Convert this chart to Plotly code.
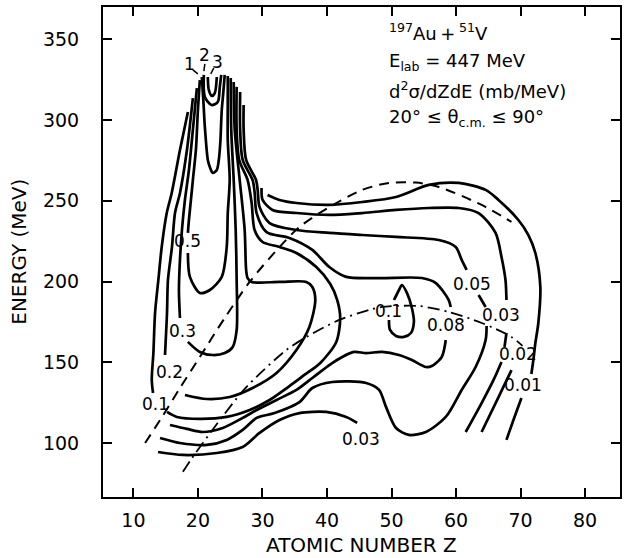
import plotly.graph_objects as go

# ---------------- axis ticks ----------------
x_ticks = [10, 20, 30, 40, 50, 60, 70, 80]
y_ticks = [100, 150, 200, 250, 300, 350]

# ---------------- contour lines (Z, E in MeV) ----------------
# level 3 : innermost loop at the top of the peak
c3_z = [21.53, 21.68, 22.15, 22.61, 22.92]
c3_e = [326.5, 318.5, 314.8, 316.6, 326.5]

# level 2
c2_z = [20.91, 21.07, 22.10, 23.07, 23.38, 23.61]
c2_e = [327.8, 314.2, 309.2, 311.1, 320.3, 327.8]

# level 1 : long narrow loop
c1_z = [20.60, 20.83, 21.07, 21.53, 21.84, 22.30, 22.92, 23.23, 23.46, 23.69, 23.92, 24.15]
c1_e = [326.5, 312.3, 295.6, 275.2, 270.9, 267.2, 269.0, 275.2, 285.7, 306.1, 316.6, 327.8]

# level 0.5 (left branch, then the rest after the label)
c05a_z = [20.29, 19.99, 19.68, 19.21, 18.91, 18.60, 18.44]
c05a_e = [324.6, 306.1, 281.4, 262.8, 250.5, 238.1, 230.1]
c05b_z = [18.44, 18.75, 20.29, 21.84, 23.69, 24.46, 24.62, 24.92, 24.62, 24.62, 24.62]
c05b_e = [217.7, 202.9, 193.0, 194.8, 202.9, 221.4, 242.4, 262.8, 287.6, 312.3, 327.1]

# level 0.3
c03a_z = [19.83, 19.21, 18.60, 17.98, 17.52, 17.21, 17.05, 17.21]
c03a_e = [319.7, 293.8, 269.0, 250.5, 231.9, 213.4, 194.8, 177.5]
c03b_z = [18.44, 20.29, 22.30, 24.15, 25.39, 26.00, 26.00, 25.85, 25.54, 25.16, 25.08]
c03b_e = [162.7, 156.5, 154.6, 155.8, 159.6, 170.1, 201.0, 231.9, 262.8, 293.8, 325.9]

# level 0.2
c02a_z = [19.21, 18.29, 17.21, 16.44, 15.97, 15.35, 15.20, 14.89]
c02a_e = [313.5, 281.4, 254.8, 242.4, 221.4, 201.0, 180.6, 154.6]
c02b_z = [17.98, 21.37, 24.92, 28.47, 32.18, 35.26, 37.27, 38.19, 37.73, 36.81, 32.64,
          28.32, 27.70, 27.47, 27.24, 26.47, 25.70, 25.54]
c02b_e = [129.9, 127.4, 128.6, 134.2, 143.5, 157.7, 171.9, 188.6, 196.7, 199.8, 199.8,
          199.8, 202.2, 207.2, 231.9, 262.8, 293.8, 323.4]

# level 0.1 (big contour) and the small closed island
c01a_z = [18.44, 17.21, 15.93, 15.16, 14.38, 13.86, 13.35, 13.09, 12.84, 13.04]
c01a_e = [304.9, 281.4, 254.8, 242.4, 221.4, 201.0, 180.6, 155.8, 139.2, 131.1]
c01b_z = [15.20, 16.74, 20.29, 24.46, 28.01, 31.10, 34.18, 36.50, 38.97, 41.44, 42.05,
          41.59, 40.51, 38.35, 35.26, 32.64, 30.02, 28.78, 28.32, 27.70, 26.39, 26.00, 26.00]
c01b_e = [119.4, 116.3, 115.1, 116.3, 120.6, 126.8, 135.4, 142.3, 149.7, 162.7, 177.5,
          188.6, 198.5, 209.0, 217.7, 221.4, 224.5, 231.9, 248.6, 262.8, 275.2, 293.8, 320.4]
c01i_z = [50.39, 51.16, 51.62, 52.39, 53.16, 53.47, 53.01, 51.93, 50.70, 49.77, 49.61]
c01i_e = [188.6, 194.8, 197.9, 193.0, 183.7, 175.0, 168.2, 165.8, 166.4, 170.1, 176.3]

# level 0.08
c008a_z = [26.54, 26.54, 26.93, 28.47, 28.78, 29.09, 30.63, 34.18, 37.73, 40.36, 42.98,
           48.07, 54.71, 56.87, 58.87, 59.18]
c008a_e = [317.3, 293.8, 275.2, 262.8, 255.4, 242.4, 230.6, 227.0, 219.6, 209.0, 202.9,
           202.2, 202.2, 199.1, 188.6, 184.3]
c008b_z = [15.66, 18.29, 20.76, 23.84, 26.93, 29.09, 32.18, 35.26, 37.73, 40.36, 42.36,
           44.21, 46.07, 48.54, 51.16, 53.16, 55.33, 56.25, 57.79, 58.41]
c008b_e = [111.3, 108.9, 107.0, 109.5, 115.7, 120.6, 126.8, 133.0, 140.4, 148.4, 153.4,
           156.5, 155.8, 156.5, 154.6, 151.5, 147.2, 147.8, 153.4, 163.9]

# level 0.05
c005a_z = [27.08, 27.08, 27.47, 29.01, 29.25, 29.55, 31.10, 35.26, 40.36, 45.45, 50.70,
           57.33, 59.95, 60.88, 61.65]
c005a_e = [309.2, 293.8, 275.2, 262.8, 256.7, 246.1, 236.2, 231.9, 230.1, 228.8, 227.6,
           225.7, 221.4, 213.4, 207.2]
c005b_z = [63.50, 64.59]
c005b_e = [191.7, 184.3]
c005c_z = [64.74, 64.59, 63.04, 60.88, 58.41, 55.33, 52.70, 50.70, 49.15, 48.07, 46.07,
           40.82, 37.73, 35.73, 31.87, 29.09, 26.93, 24.46, 21.37, 17.21, 14.12]
c005c_e = [172.6, 163.9, 147.2, 133.0, 116.3, 107.0, 105.2, 109.5, 122.5, 133.0, 137.3,
           137.9, 134.2, 125.5, 118.7, 115.7, 108.3, 102.1, 99.0, 100.2, 103.3]

# level 0.03 (upper arc, its lower continuation, and the separate low-energy piece)
c003a_z = [29.86, 30.02, 31.56, 35.26, 40.36, 45.45, 50.70, 55.79, 60.42, 63.50, 66.13,
           67.05, 67.67, 67.82]
c003a_e = [257.9, 250.5, 244.3, 242.4, 241.2, 242.4, 244.3, 245.5, 245.5, 242.4, 230.1,
           215.2, 201.0, 188.6]
c003b_z = [67.82, 67.52]
c003b_e = [168.2, 159.6]
c003c_z = [67.05, 65.82, 63.97, 61.50]
c003c_e = [150.3, 139.2, 124.9, 107.0]
c003d_z = [13.81, 17.67, 22.92, 26.93, 29.55, 32.64, 35.73, 39.89, 42.98, 44.68]
c003d_e = [94.6, 92.8, 94.0, 97.7, 106.4, 114.4, 118.7, 119.4, 116.3, 112.6]

# outermost arc and the low-level tails on the right
c002a_z = [30.79, 32.64, 35.26, 40.36, 45.45, 50.70, 55.79, 60.42, 64.59, 66.59, 69.67,
           71.22, 72.30, 73.07, 72.76, 72.30, 71.99, 71.68]
c002a_e = [253.6, 250.5, 248.6, 247.4, 249.2, 252.3, 259.8, 261.0, 256.7, 250.5, 238.1,
           228.8, 217.7, 196.7, 174.4, 162.0, 151.5, 142.9]
c002b_z = [68.60, 66.59, 63.97]
c002b_e = [145.3, 128.6, 107.0]
c001_z = [70.14, 68.90, 67.82]
c001_e = [128.0, 114.4, 102.1]

# reference curves
dash_z = [11.81, 14.43, 17.21, 20.29, 24.15, 28.01, 32.64, 35.73, 40.36, 45.45, 49.61,
          53.78, 57.33, 63.97, 68.60]
dash_e = [100.2, 116.3, 134.2, 153.4, 177.5, 199.8, 221.4, 233.8, 246.1, 256.7, 261.0,
          261.2, 258.5, 247.4, 236.9]
dashdot_z = [17.67, 19.1, 23.4, 27.5, 33.7, 36.8, 41.9, 46.5, 48.5, 54.2, 58.9, 64.0, 68.6, 70.3]
dashdot_e = [82.4, 91.0, 114.4, 134.8, 157.7, 165.7, 176.3, 182.4, 184.3, 184.9, 181.2,
             174.4, 165.8, 160.2]

# short leader strokes for the peak labels
lead1_z = [19.21, 19.98]
lead1_e = [330.9, 328.4]
lead2_z = [21.07, 20.91]
lead2_e = [334.6, 330.2]
lead3_z = [22.45, 21.99]
lead3_e = [332.1, 328.4]

# contour labels
label_text = ["1", "2", "3", "0.5", "0.3", "0.2", "0.1", "0.1", "0.08", "0.05",
              "0.03", "0.02", "0.01", "0.03"]
label_z = [18.75, 21.07, 23.07, 18.44, 17.67, 15.51, 13.35, 49.61, 58.41, 62.42,
           67.05, 69.67, 70.45, 45.30]
label_e = [334.6, 340.1, 335.8, 225.1, 169.5, 144.1, 124.3, 181.8, 173.1, 198.5,
           179.4, 155.2, 136.1, 102.6]

FONT = "DejaVu Sans"

fig = go.Figure()


def add_line(z, e, dash="solid", width=2.7):
    fig.add_trace(go.Scatter(
        x=z, y=e, mode="lines",
        line=dict(color="black", width=width, shape="spline", smoothing=0.8, dash=dash),
        hoverinfo="skip", showlegend=False))


solid = [
    (c3_z, c3_e), (c2_z, c2_e), (c1_z, c1_e),
    (c05a_z, c05a_e), (c05b_z, c05b_e),
    (c03a_z, c03a_e), (c03b_z, c03b_e),
    (c02a_z, c02a_e), (c02b_z, c02b_e),
    (c01a_z, c01a_e), (c01b_z, c01b_e), (c01i_z, c01i_e),
    (c008a_z, c008a_e), (c008b_z, c008b_e),
    (c005a_z, c005a_e), (c005b_z, c005b_e), (c005c_z, c005c_e),
    (c003a_z, c003a_e), (c003b_z, c003b_e), (c003c_z, c003c_e), (c003d_z, c003d_e),
    (c002a_z, c002a_e), (c002b_z, c002b_e), (c001_z, c001_e),
]
for z, e in solid:
    add_line(z, e)

add_line(dash_z, dash_e, dash="10px,7px", width=2)
add_line(dashdot_z, dashdot_e, dash="12px,5px,2px,5px", width=1.8)
for z, e in [(lead1_z, lead1_e), (lead2_z, lead2_e), (lead3_z, lead3_e)]:
    add_line(z, e, width=1.5)

for t, z, e in zip(label_text, label_z, label_e):
    fig.add_annotation(x=z, y=e, text=t, showarrow=False,
                       font=dict(family=FONT, size=17, color="black"))

# reaction description block
info_lines = [
    "<sup>197</sup>Au\u2009+\u2009<sup>51</sup>V",
    "E<sub>lab</sub> = 447 MeV",
    "d<sup>2</sup>σ/dZdE (mb/MeV)",
    "20° ≤ θ<sub>c.m.</sub> ≤ 90°",
]
info_y = [0.949, 0.888, 0.831, 0.773]
for t, yy in zip(info_lines, info_y):
    fig.add_annotation(xref="paper", yref="paper", x=0.549, y=yy, text=t,
                       xanchor="left", yanchor="middle", showarrow=False,
                       font=dict(family=FONT, size=18, color="black"))

# axis titles
fig.add_annotation(xref="paper", yref="paper", x=0.5, y=-0.098, text="ATOMIC NUMBER Z",
                   showarrow=False, xanchor="center", yanchor="middle",
                   font=dict(family=FONT, size=20, color="black"))
fig.add_annotation(xref="paper", yref="paper", x=-0.163, y=0.5, text="ENERGY (MeV)",
                   textangle=-90, showarrow=False, xanchor="center", yanchor="middle",
                   font=dict(family=FONT, size=20, color="black"))

axis_common = dict(showgrid=False, zeroline=False, showline=True, linecolor="black",
                   linewidth=2, mirror="ticks", ticks="inside", ticklen=9, tickwidth=1.6,
                   tickcolor="black", tickfont=dict(family=FONT, size=19, color="black"))
fig.update_xaxes(range=[5.28, 85.42], tickvals=x_ticks, ticklabelstandoff=5, **axis_common)
fig.update_yaxes(range=[66.8, 369.8], tickvals=y_ticks, ticklabelstandoff=18, **axis_common)

fig.update_layout(width=624, height=558, autosize=False,
                  margin=dict(l=103, r=2, t=7, b=61),
                  paper_bgcolor="white", plot_bgcolor="white")

fig.write_html("out.html")
